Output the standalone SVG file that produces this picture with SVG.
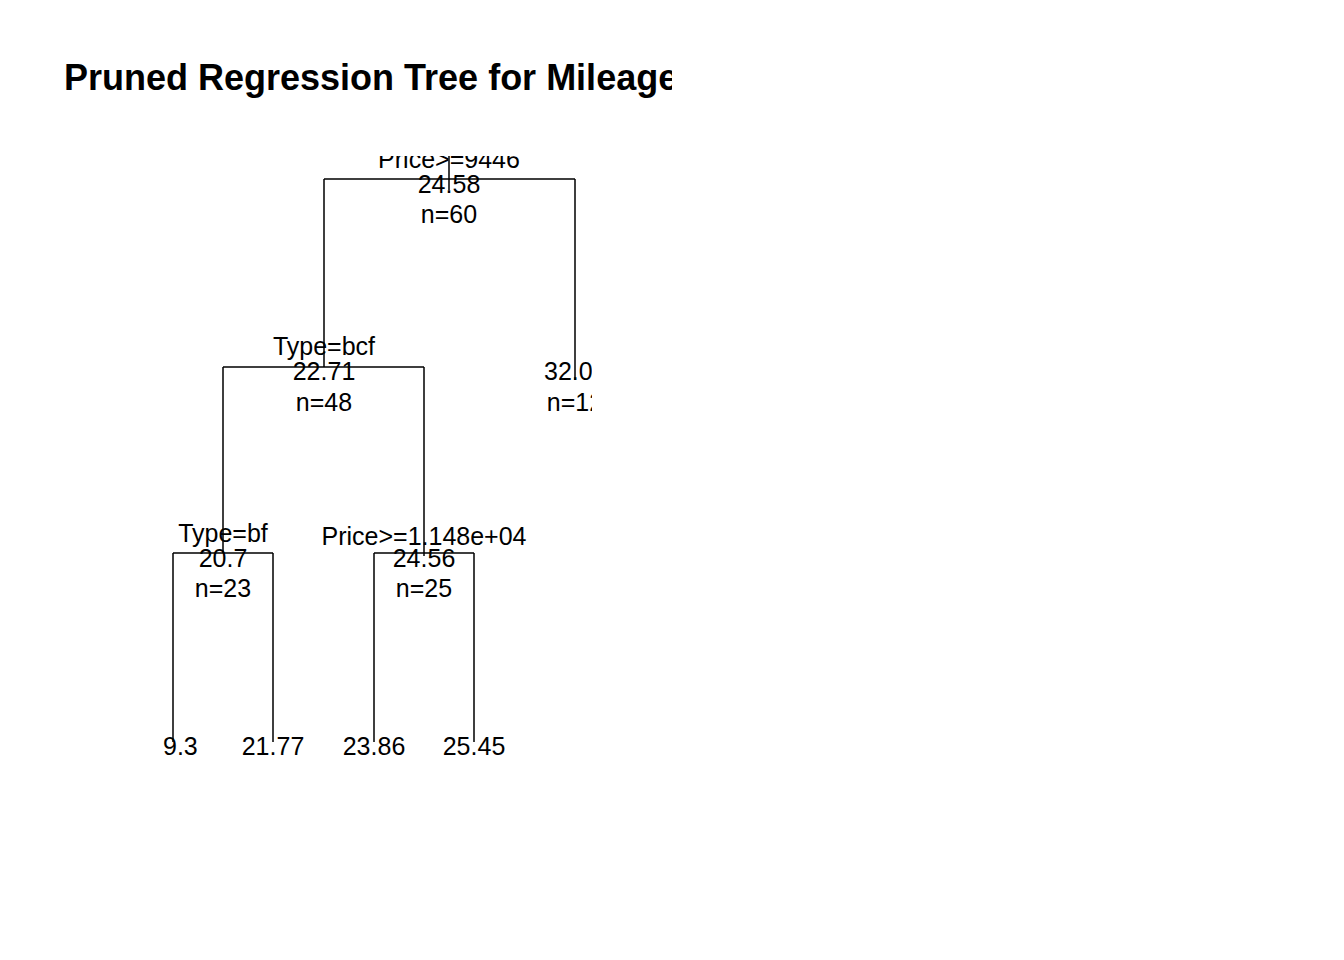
<svg xmlns="http://www.w3.org/2000/svg" width="1344" height="960" viewBox="0 0 1344 960">
<defs>
<style>
.t{font-family:"Liberation Sans",Arial,sans-serif;font-size:25px;fill:#000;text-anchor:middle}
.ttl{font-family:"Liberation Sans",Arial,sans-serif;font-size:36px;font-weight:bold;fill:#000}
.br{stroke:#000;stroke-width:1.5;fill:none}
</style>
<clipPath id="plot"><rect x="162" y="156" width="430" height="700"/></clipPath>
<clipPath id="tclip"><rect x="0" y="0" width="672" height="140"/></clipPath>
</defs>
<rect width="1344" height="960" fill="#fff"/>
<g id="title" clip-path="url(#tclip)"><text class="ttl" x="64" y="90">Pruned Regression Tree for Mileage</text></g>
<g clip-path="url(#plot)">
<g id="connectors">
<path class="br" d="M449 156V190M324 179H575M324 179V367M575 179V380M223 367H424M223 367V553M424 367V556M173 553H273M374 553H474M173 553V742M273 553V742M374 553V742M474 553V742"/>
</g>
<g id="n1"><text class="t" x="449" y="168">Price&gt;=9446</text><text class="t" x="449" y="193">24.58</text><text class="t" x="449" y="223">n=60</text></g>
<g id="n2"><text class="t" x="324" y="355">Type=bcf</text><text class="t" x="324" y="380">22.71</text><text class="t" x="324" y="411">n=48</text></g>
<g id="n3"><text class="t" x="544" y="380" style="text-anchor:start">32.0</text><text class="t" x="575" y="411">n=12</text></g>
<g id="n4"><text class="t" x="223" y="542">Type=bf</text><text class="t" x="223" y="567">20.7</text><text class="t" x="223" y="597">n=23</text></g>
<g id="n5"><text class="t" x="424" y="545">Price&gt;=1.148e+04</text><text class="t" x="424" y="567">24.56</text><text class="t" x="424" y="597">n=25</text></g>
<g id="n8"><text class="t" x="163" y="755" style="text-anchor:start">9.3</text></g>
<g id="n9"><text class="t" x="273" y="755">21.77</text></g>
<g id="n10"><text class="t" x="374" y="755">23.86</text></g>
<g id="n11"><text class="t" x="474" y="755">25.45</text></g>
</g>
</svg>
